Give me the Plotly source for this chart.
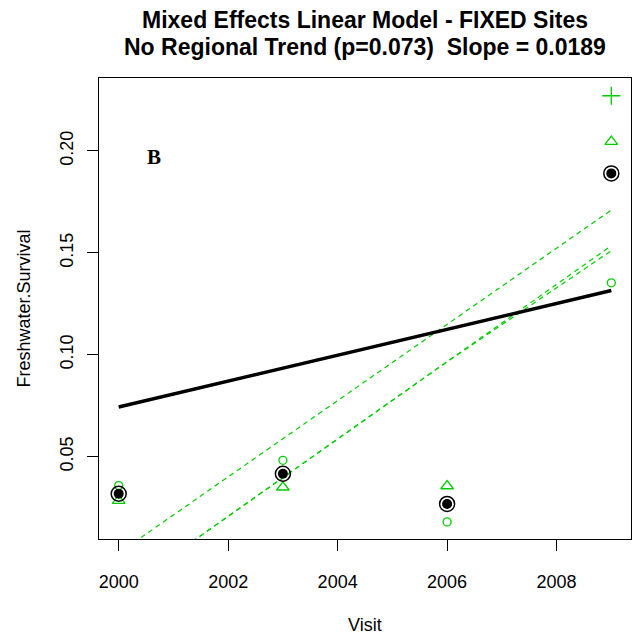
import plotly.graph_objects as go

visits = [2000, 2003, 2006, 2009]
site_circle = [0.0358, 0.0482, 0.0180, 0.1353]
site_triangle = [0.0284, 0.0350, 0.0356, 0.2046]
site_plus_x = [2009]
site_plus = [0.2271]
mean_vals = [0.0318, 0.0416, 0.0268, 0.1890]

fixed_x = [2000, 2009]
fixed_y = [0.0744, 0.1315]

site_lines = [
    [0.0027, 0.0588, 0.1150, 0.1710],
    [-0.0172, 0.0397, 0.0966, 0.1535],
    [-0.0172, 0.0397, 0.0966, 0.1510],
]

x_ticks = [2000, 2002, 2004, 2006, 2008]
y_ticks = [0.05, 0.10, 0.15, 0.20]
y_ticklabels = ["0.05", "0.10", "0.15", "0.20"]

GREEN = "#00CD00"
FONT = "Liberation Sans, Arial, Helvetica, sans-serif"

fig = go.Figure()

for ys in site_lines:
    fig.add_trace(go.Scatter(x=visits, y=ys, mode="lines",
                             line=dict(color=GREEN, width=1.2, dash="5px,4px"),
                             showlegend=False, hoverinfo="skip"))

fig.add_trace(go.Scatter(x=fixed_x, y=fixed_y, mode="lines",
                         line=dict(color="black", width=3.5), showlegend=False))

fig.add_trace(go.Scatter(x=visits, y=site_circle, mode="markers",
                         marker=dict(symbol="circle-open", size=8, color=GREEN,
                                     line=dict(color=GREEN, width=1.3)),
                         showlegend=False))
fig.add_trace(go.Scatter(x=visits, y=site_triangle, mode="markers",
                         marker=dict(symbol="triangle-up-open", size=11, color=GREEN,
                                     line=dict(color=GREEN, width=1.3)),
                         showlegend=False))
fig.add_trace(go.Scatter(x=site_plus_x, y=site_plus, mode="markers",
                         marker=dict(symbol="cross-thin-open", size=13, color=GREEN,
                                     line=dict(color=GREEN, width=1.3)),
                         showlegend=False))
fig.add_trace(go.Scatter(x=visits, y=mean_vals, mode="markers",
                         marker=dict(symbol="circle-open", size=15, color="black",
                                     line=dict(color="black", width=1.5)),
                         showlegend=False))
fig.add_trace(go.Scatter(x=visits, y=mean_vals, mode="markers",
                         marker=dict(symbol="circle", size=10, color="black",
                                     line=dict(width=0)),
                         showlegend=False))

fig.update_layout(
    width=640, height=637,
    margin=dict(l=99, r=9, t=78, b=98, autoexpand=False),
    paper_bgcolor="white", plot_bgcolor="white",
    font=dict(family=FONT, size=16, color="black"),
    xaxis=dict(range=[1999.64, 2009.36], tickvals=x_ticks,
               ticktext=[str(v) for v in x_ticks],
               ticks="outside", ticklen=11, tickwidth=1, tickcolor="black",
               showline=True, linecolor="black", linewidth=1, mirror=True,
               showgrid=False, zeroline=False, ticklabelstandoff=15,
               tickfont=dict(size=18)),
    yaxis=dict(range=[0.0096, 0.2358], tickvals=y_ticks, ticktext=y_ticklabels,
               ticks="outside", ticklen=11, tickwidth=1, tickcolor="black",
               showline=True, linecolor="black", linewidth=1, mirror=True,
               showgrid=False, zeroline=False, tickangle=-90,
               ticklabelstandoff=7, tickfont=dict(size=18)),
    annotations=[
        dict(text="<b>Mixed Effects Linear Model - FIXED Sites</b>",
             xref="paper", yref="paper", x=0.5, y=1, xanchor="center", yanchor="middle",
             yshift=78 - 20, showarrow=False, font=dict(size=23, family=FONT)),
        dict(text="<b>No Regional Trend (p=0.073)  Slope = 0.0189</b>",
             xref="paper", yref="paper", x=0.5, y=1, xanchor="center", yanchor="middle",
             yshift=78 - 47, showarrow=False, font=dict(size=23, family=FONT)),
        dict(text="Visit", xref="paper", yref="paper", x=0.5, y=0,
             xanchor="center", yanchor="middle", yshift=-(625 - 539),
             showarrow=False, font=dict(size=18, family=FONT)),
        dict(text="Freshwater.Survival", xref="paper", yref="paper", x=0, y=0.5,
             xanchor="center", yanchor="middle", xshift=-(99 - 23), textangle=-90,
             showarrow=False, font=dict(size=18, family=FONT)),
        dict(text="<b>B</b>", xref="x", yref="y", x=2000.64, y=0.197,
             xanchor="center", yanchor="middle", showarrow=False,
             font=dict(size=21, family="Liberation Serif, Times New Roman, serif")),
    ],
)

fig.write_html("out.html")
